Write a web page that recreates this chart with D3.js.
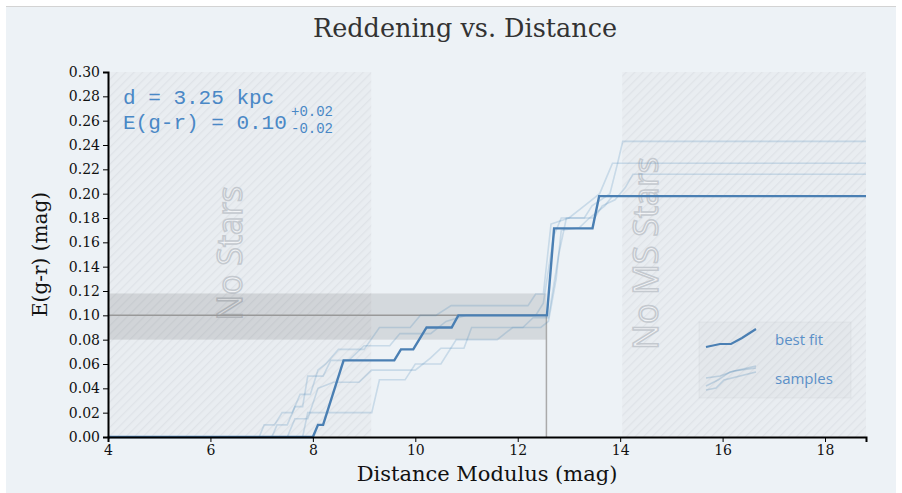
<!DOCTYPE html>
<html lang="en">
<head>
  <meta charset="UTF-8">
  <title>Reddening vs. Distance</title>
  <script src="https://d3js.org/d3.v7.min.js"></script>
  <style>
    body {
      margin: 0;
      background-color: white;
    }
    svg {
      display: block;
    }
    .tick text {
      font-family: "DejaVu Serif", serif;
      font-size: 14px;
      fill: #111;
    }
    .axis path, .axis line {
      stroke: #000;
    }
    .axis path {
      stroke-width: 2px;
    }
    .zone-label {
      font-family: "Open Sans", sans-serif;
      font-size: 34px;
      fill: rgba(255,255,255,0.45);
      stroke: #c4c9cf;
      stroke-width: 1.5px;
    }
    .note {
      font-family: "Liberation Mono", monospace;
      fill: #4a88c6;
    }
    .legend-text {
      font-family: "Open Sans", sans-serif;
      font-size: 15px;
      fill: #5b90c8;
    }
  </style>
</head>
<body>
  <svg width="902" height="493"></svg>
  <script>
    // best-fit reddening profile
    const bestX = [4, 8.0, 8.1, 8.2, 8.6, 9.59, 9.72, 9.96, 10.22, 10.71, 10.84, 12.57, 12.71, 13.46, 13.59, 18.8];
    const bestY = [0, 0, 0.01, 0.01, 0.063, 0.063, 0.072, 0.072, 0.09, 0.09, 0.10, 0.10, 0.1715, 0.1715, 0.198, 0.198];

    // posterior samples
    const sample1X = [4, 6.95, 7.05, 7.25, 7.4, 7.6, 7.75, 7.95, 8.1, 8.25, 8.5, 9.0, 9.3, 9.9, 10.1, 10.4, 10.7, 12.2, 12.35, 12.5, 12.65, 13.0, 13.3, 13.6, 13.75, 13.85, 18.8];
    const sample1Y = [0, 0, 0.01, 0.01, 0.02, 0.02, 0.035, 0.035, 0.055, 0.06, 0.072, 0.072, 0.09, 0.09, 0.10, 0.10, 0.108, 0.108, 0.1175, 0.1175, 0.175, 0.18, 0.19, 0.20, 0.215, 0.225, 0.225];
    const sample2X = [4, 7.2, 7.3, 7.5, 7.65, 7.8, 7.9, 8.2, 8.35, 8.7, 9.0, 9.5, 9.7, 10.3, 10.6, 11.0, 12.35, 12.5, 12.7, 12.85, 13.3, 13.45, 13.8, 13.95, 14.05, 18.8];
    const sample2Y = [0, 0, 0.01, 0.01, 0.025, 0.025, 0.05, 0.05, 0.063, 0.063, 0.075, 0.075, 0.085, 0.085, 0.095, 0.10, 0.10, 0.11, 0.165, 0.18, 0.18, 0.19, 0.20, 0.225, 0.243, 0.243];
    const sample3X = [4, 7.5, 7.65, 7.9, 8.1, 8.4, 8.9, 9.15, 10.0, 10.3, 10.5, 10.95, 11.1, 12.1, 12.3, 12.6, 12.8, 12.95, 13.5, 13.65, 13.9, 14.1, 14.25, 18.8];
    const sample3Y = [0, 0, 0.015, 0.015, 0.04, 0.045, 0.045, 0.055, 0.055, 0.065, 0.073, 0.073, 0.09, 0.09, 0.098, 0.098, 0.15, 0.18, 0.18, 0.19, 0.195, 0.205, 0.216, 0.216];
    const sample4X = [4, 7.8, 7.9, 9.15, 9.3, 9.8, 10.0, 10.5, 10.8, 11.6, 11.9, 12.45, 12.6, 12.75, 12.85, 13.2, 13.4, 13.7, 13.85, 18.8];
    const sample4Y = [0, 0, 0.02, 0.02, 0.047, 0.047, 0.06, 0.06, 0.08, 0.08, 0.09, 0.09, 0.095, 0.13, 0.17, 0.172, 0.18, 0.19, 0.198, 0.198];

    const xTicks = [4, 6, 8, 10, 12, 14, 16, 18];
    const yTicks = d3.range(0, 0.301, 0.02);

    const noStars = [4, 9.14];
    const noMSStars = [14.04, 18.8];
    const distMod = 12.56;
    const ebr = 0.10, ebrLo = 0.08, ebrHi = 0.118;

    const svg = d3.select("svg");
    const margin = { top: 72, right: 36, bottom: 56, left: 108 };
    const width = +svg.attr("width") - margin.left - margin.right;
    const height = +svg.attr("height") - margin.top - margin.bottom;

    // panel background
    svg.append("rect").attr("x", 6).attr("y", 6).attr("width", 890).attr("height", 487)
      .attr("fill", "#edf2f6");
    svg.append("line").attr("x1", 6).attr("x2", 896).attr("y1", 6.5).attr("y2", 6.5)
      .attr("stroke", "#d3d3d3");

    const defs = svg.append("defs");
    const pat = defs.append("pattern").attr("id", "hatch")
      .attr("patternUnits", "userSpaceOnUse").attr("width", 6).attr("height", 6)
      .attr("patternTransform", "rotate(45)");
    pat.append("rect").attr("width", 6).attr("height", 6).attr("fill", "#e9edf1");
    pat.append("line").attr("x1", 0).attr("y1", 0).attr("x2", 0).attr("y2", 6)
      .attr("stroke", "#dfe3e8").attr("stroke-width", 2.5);

    const g = svg.append("g").attr("transform", `translate(${margin.left},${margin.top})`);

    const x = d3.scaleLinear().domain([4, 18.8]).range([0, width]);
    const y = d3.scaleLinear().domain([0, 0.30]).range([height, 0]);

    // title
    svg.append("text").attr("x", 465).attr("y", 37).attr("text-anchor", "middle")
      .style("font-family", "'DejaVu Serif', serif").style("font-size", "25.5px").style("fill", "#333")
      .text("Reddening vs. Distance");

    // excluded zones
    [noStars, noMSStars].forEach(z => {
      g.append("rect").attr("x", x(z[0])).attr("y", 0)
        .attr("width", x(z[1]) - x(z[0])).attr("height", height)
        .attr("fill", "url(#hatch)");
    });
    g.append("text").attr("class", "zone-label")
      .attr("transform", `translate(${x(6.62)},${y(0.151)}) rotate(-90)`)
      .attr("text-anchor", "middle").text("No Stars");
    g.append("text").attr("class", "zone-label")
      .attr("transform", `translate(${x(14.74)},${y(0.151)}) rotate(-90)`)
      .attr("text-anchor", "middle").text("No MS Stars");

    // reddening uncertainty band and markers
    g.append("rect").attr("x", x(4)).attr("y", y(ebrHi))
      .attr("width", x(distMod) - x(4)).attr("height", y(ebrLo) - y(ebrHi))
      .attr("fill", "rgba(0,0,0,0.1)");
    g.append("line").attr("x1", x(4)).attr("x2", x(distMod))
      .attr("y1", y(ebr)).attr("y2", y(ebr))
      .attr("stroke", "#999").attr("stroke-width", 1.5);
    g.append("line").attr("x1", x(distMod)).attr("x2", x(distMod))
      .attr("y1", y(0)).attr("y2", y(ebr))
      .attr("stroke", "#aaa").attr("stroke-width", 1.5);

    const line = d3.line().x(d => x(d[0])).y(d => y(d[1]));
    const zip = (xs, ys) => xs.map((v, i) => [v, ys[i]]);

    const samples = [
      zip(sample1X, sample1Y),
      zip(sample2X, sample2Y),
      zip(sample3X, sample3Y),
      zip(sample4X, sample4Y)
    ];
    g.selectAll(".sample").data(samples).enter()
      .append("path").attr("class", "sample")
      .attr("d", line)
      .attr("fill", "none").attr("stroke", "#4682b4")
      .attr("stroke-opacity", 0.22).attr("stroke-width", 1.6);

    g.append("path").datum(zip(bestX, bestY))
      .attr("d", line)
      .attr("fill", "none").attr("stroke", "#4a7fb3").attr("stroke-width", 2.4);

    // axes
    g.append("g").attr("class", "axis")
      .attr("transform", `translate(0,${height})`)
      .call(d3.axisBottom(x).tickValues(xTicks).tickFormat(d3.format("d")).tickSize(5));
    g.append("g").attr("class", "axis")
      .call(d3.axisLeft(y).tickValues(yTicks).tickFormat(d3.format(".2f")).tickSize(5));

    svg.append("text").attr("x", margin.left + width / 2).attr("y", 481)
      .attr("text-anchor", "middle")
      .style("font-family", "'DejaVu Serif', serif").style("font-size", "21px").style("fill", "#111")
      .text("Distance Modulus (mag)");
    svg.append("text")
      .attr("transform", `translate(47,${margin.top + height / 2}) rotate(-90)`)
      .attr("text-anchor", "middle")
      .style("font-family", "'DejaVu Serif', serif").style("font-size", "20px").style("fill", "#111")
      .text("E(g-r) (mag)");

    // fit summary
    svg.append("text").attr("class", "note").attr("x", 123).attr("y", 104)
      .style("font-size", "21px").text("d = 3.25 kpc");
    const t2 = svg.append("text").attr("class", "note").attr("x", 123).attr("y", 129)
      .style("font-size", "21px");
    t2.append("tspan").text("E(g-r) = 0.10");
    svg.append("text").attr("class", "note").attr("x", 291).attr("y", 116)
      .style("font-size", "14px").text("+0.02");
    svg.append("text").attr("class", "note").attr("x", 291).attr("y", 133)
      .style("font-size", "14px").text("-0.02");

    // legend
    const lg = svg.append("g");
    lg.append("rect").attr("x", 699).attr("y", 322).attr("width", 152).attr("height", 76)
      .attr("fill", "rgba(0,0,0,0.018)").attr("stroke", "rgba(0,0,0,0.03)");
    lg.append("path").attr("d", "M706,347 L720,344 L731,344 L742,338 L756,329")
      .attr("fill", "none").attr("stroke", "#4a7fb3").attr("stroke-width", 2.2);
    ["M706,386 L718,380 L730,372 L756,366", "M706,378 L720,376 L734,371 L756,368", "M706,390 L716,388 L724,380 L756,372"]
      .forEach(p => lg.append("path").attr("d", p).attr("fill", "none")
        .attr("stroke", "#4682b4").attr("stroke-opacity", 0.25).attr("stroke-width", 1.5));
    lg.append("text").attr("class", "legend-text").attr("x", 775).attr("y", 345).text("best fit");
    lg.append("text").attr("class", "legend-text").attr("x", 775).attr("y", 384).text("samples");
  </script>
</body>
</html>
